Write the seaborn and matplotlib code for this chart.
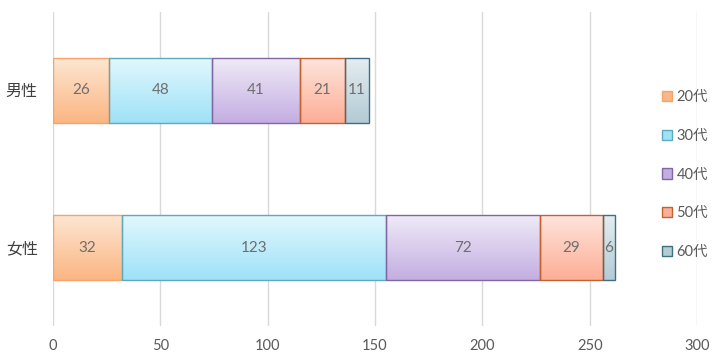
import numpy as np
import pandas as pd
import matplotlib
matplotlib.use("Agg")
import matplotlib.pyplot as plt
import matplotlib.colors as mcolors
from matplotlib.patches import Patch
import seaborn as sns

genders = ["男性", "女性"]
age_groups = ["20代", "30代", "40代", "50代", "60代"]
v20 = [26, 32]
v30 = [48, 123]
v40 = [41, 72]
v50 = [21, 29]
v60 = [11, 6]
series = [v20, v30, v40, v50, v60]
x_ticks = [0, 50, 100, 150, 200, 250, 300]

grad_top = ["#fde6d2", "#e2f7fd", "#efeaf7", "#fee4dc", "#e4edf1"]
grad_bot = ["#fbb683", "#9ee2f8", "#c3aee2", "#fdae96", "#b3cbd5"]
edges = ["#f4a46a", "#5fa9bd", "#8066a4", "#c4622f", "#3f6f80"]

sns.set_theme(style="white")
FONT = ["Lato", "Noto Sans CJK JP", "DejaVu Sans"]
plt.rcParams["font.family"] = FONT

fig = plt.figure(figsize=(7.2, 3.61), dpi=100)
ax = fig.add_axes([53/720, 1-326/361, (697-53)/720, (326-12)/361])

cum = np.zeros(len(genders))
for i, (ag, vals) in enumerate(zip(age_groups, series)):
    n_before = len(ax.patches)
    df = pd.DataFrame({"gender": genders, "value": vals})
    sns.barplot(data=df, x="value", y="gender", orient="h", color=grad_bot[i],
                width=0.41, ax=ax, errorbar=None)
    new = ax.patches[n_before:]
    for j, p in enumerate(new):
        p.set_x(cum[j])
        p.set_facecolor("none")
        p.set_edgecolor(edges[i])
        p.set_linewidth(1.0)
        p.set_zorder(4)
        x0, y0, w, h = p.get_x(), p.get_y(), p.get_width(), p.get_height()
        c1 = np.array(mcolors.to_rgb(grad_top[i]))
        c2 = np.array(mcolors.to_rgb(grad_bot[i]))
        t = np.linspace(0, 1, 64)[:, None]
        arr = (c1[None, :] * (1 - t) + c2[None, :] * t)[:, None, :]
        im = ax.imshow(arr, extent=(x0, x0 + w, y0 + h, y0), origin="upper",
                       aspect="auto", zorder=3, interpolation="bilinear")
        im.set_clip_path(p)
        ax.text(x0 + w / 2, y0 + h / 2, str(vals[j]), ha="center", va="center",
                color="#6e6e6e", fontsize=11, zorder=5)
    cum = cum + np.array(vals)

ax.set_xlim(0, 300)
ax.set_ylim(1.5, -0.5)
ax.set_xticks(x_ticks)
ax.set_xticklabels([str(t) for t in x_ticks], color="#595959", fontsize=10.5)
ax.set_xlabel("")
ax.set_ylabel("")
ax.tick_params(axis="y", labelsize=11.5, labelcolor="#404040", length=0, pad=11)
ax.tick_params(axis="x", length=0, pad=9)
for s in ax.spines.values():
    s.set_visible(False)
ax.grid(axis="x", color="#d9d9d9", linewidth=1.0)
ax.set_axisbelow(True)

handles = [Patch(facecolor=grad_bot[i], edgecolor=edges[i], linewidth=1.0)
           for i in range(len(age_groups))]
leg = fig.legend(handles, age_groups, loc="upper left",
                 bbox_to_anchor=(662/720, 1 - 90/361), frameon=False,
                 prop={"family": FONT, "size": 10.5}, labelcolor="#595959",
                 handlelength=0.7, handleheight=0.7, handletextpad=0.3,
                 labelspacing=1.7, borderpad=0, borderaxespad=0)

fig.savefig("out.png", dpi=100)
